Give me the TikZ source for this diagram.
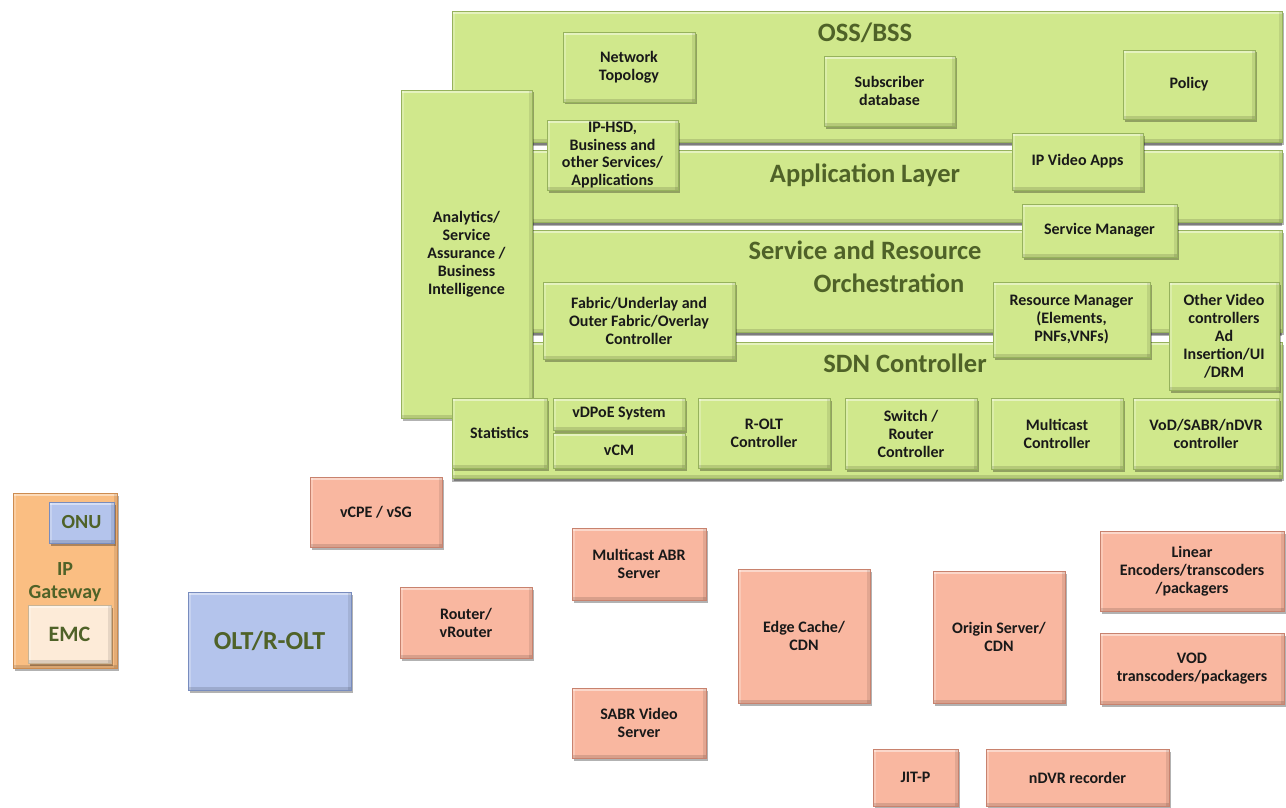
\documentclass[tikz,border=0pt]{standalone}
\usepackage{fontspec}
\setmainfont{Carlito}
\usetikzlibrary{shadows}

\definecolor{leaf}{RGB}{208,232,140}
\definecolor{leafedge}{RGB}{150,178,92}
\definecolor{salmon}{RGB}{249,183,160}
\definecolor{salmonedge}{RGB}{200,130,110}
\definecolor{periwinkle}{RGB}{180,196,236}
\definecolor{periedge}{RGB}{120,140,190}
\definecolor{apricot}{RGB}{250,190,130}
\definecolor{apricotedge}{RGB}{205,140,80}
\definecolor{cream}{RGB}{253,235,216}
\definecolor{creamedge}{RGB}{200,180,150}
\definecolor{olivetext}{RGB}{79,98,40}
\definecolor{labeltext}{RGB}{25,25,25}

\tikzset{
  bevel/.style={path picture={
      \fill[white,opacity=0.45] (path picture bounding box.north west)
        rectangle ([yshift=-3pt]path picture bounding box.north east);
      \fill[white,opacity=0.25] (path picture bounding box.north west)
        rectangle ([xshift=3pt]path picture bounding box.south west);
      \fill[black,opacity=0.13] (path picture bounding box.south west)
        rectangle ([yshift=3pt]path picture bounding box.south east);
      \fill[black,opacity=0.09] (path picture bounding box.north east)
        rectangle ([xshift=-3pt]path picture bounding box.south east);
  }},
  base box/.style={rectangle, inner sep=1pt, align=center, bevel,
    line width=0.6pt, text=labeltext,
    font=\bfseries\fontsize{16}{18}\selectfont,
    drop shadow={shadow xshift=1.5pt, shadow yshift=-2.5pt,
                 fill=black, opacity=0.3}},
  greenbox/.style={base box, fill=leaf, draw=leafedge},
  layerbox/.style={base box, fill=leaf, draw=leafedge,
    drop shadow={shadow xshift=0pt, shadow yshift=-3.5pt,
                 fill=black, opacity=0.3}},
  pinkbox/.style={base box, fill=salmon, draw=salmonedge},
  bluebox/.style={base box, fill=periwinkle, draw=periedge, text=olivetext},
  orangebox/.style={base box, fill=apricot, draw=apricotedge},
  creambox/.style={base box, fill=cream, draw=creamedge, text=olivetext},
  layertitle/.style={anchor=base, inner sep=0pt, text=olivetext,
    font=\bfseries\fontsize{26.5}{30}\selectfont},
  gwlabel/.style={anchor=base, inner sep=0pt, text=olivetext,
    font=\bfseries\fontsize{20}{23}\selectfont},
}

% \bx{style}{name}{x1}{y1}{x2}{y2}{text}: box spanning the given corners
\newcommand\bx[7]{%
  \node[#1, minimum width={(#5-#3)*1pt}, minimum height={(#6-#4)*1pt}]
    (#2) at ({(#3+#5)/2},{(#4+#6)/2}) {#7};}

\begin{document}
\begin{tikzpicture}[x=1pt, y=-1pt]
\useasboundingbox (0,0) rectangle (1286,808);
\clip (0,0) rectangle (1286,808);

% ---- stacked control layers ----
\bx{layerbox}{oss}{452}{11}{1282}{142}{}
\bx{layerbox}{app}{452}{150}{1282}{222}{}
\bx{layerbox}{orch}{452}{230}{1282}{332}{}
\bx{layerbox}{sdn}{452}{342}{1282}{478}{}

\node[layertitle] (ossT)  at (865,42)  {OSS/BSS};
\node[layertitle] (appT)  at (865,182) {Application Layer};
\node[layertitle] (orchT) at (865,259) {Service and Resource};
\node[layertitle] (orchT2) at (889,292) {Orchestration};
\node[layertitle] (sdnT)  at (905,372) {SDN Controller};

% ---- analytics column ----
\bx{greenbox}{analytics}{401}{90}{532}{418}{Analytics/\\Service\\Assurance /\\Business\\Intelligence}

% ---- OSS / application / orchestration functions ----
\bx{greenbox}{topo}{563}{32}{695}{102}{Network\\Topology}
\bx{greenbox}{subs}{824}{56}{955}{126}{Subscriber\\database}
\bx{greenbox}{policy}{1123}{50}{1255}{119}{Policy}
\bx{greenbox,font=\bfseries\fontsize{16}{17.5}\selectfont}{iphsd}{547}{120}{678}{190}{IP-HSD,\\Business and\\other Services/\\Applications}
\bx{greenbox}{ipvideo}{1012}{133}{1143}{190}{IP Video Apps}
\bx{greenbox}{svcmgr}{1022}{204}{1177}{257}{Service Manager}
\bx{greenbox}{fabric}{543}{282}{735}{359}{Fabric/Underlay and\\Outer Fabric/Overlay\\Controller}
\bx{greenbox}{resmgr}{993}{282}{1150}{357}{Resource Manager\\(Elements,\\PNFs,VNFs)}
\bx{greenbox}{othervid}{1169}{282}{1279}{390}{Other Video\\controllers\\Ad\\Insertion/UI\\/DRM}

% ---- SDN controller modules ----
\bx{greenbox}{stats}{452}{398}{547}{468}{Statistics}
\bx{greenbox}{vdpoe}{553}{398}{685}{430}{vDPoE System}
\bx{greenbox}{vcm}{553}{433}{685}{468}{vCM}
\bx{greenbox}{roltc}{698}{398}{830}{468}{R-OLT\\Controller}
\bx{greenbox}{switchc}{845}{398}{977}{469}{Switch /\\Router\\Controller}
\bx{greenbox}{mcastc}{991}{398}{1123}{469}{Multicast\\Controller}
\bx{greenbox}{vodc}{1133}{398}{1279}{469}{VoD/SABR/nDVR\\controller}

% ---- home gateway ----
\bx{orangebox}{ipgw}{13}{493}{117}{668}{}
\bx{bluebox,font=\bfseries\fontsize{20}{22}\selectfont}{onu}{49}{502}{114}{543}{ONU}
\bx{creambox,font=\bfseries\fontsize{22}{24}\selectfont}{emc}{28}{605}{111}{663}{EMC}
\node[gwlabel] (ipgwT1) at (65,575) {IP};
\node[gwlabel] (ipgwT2) at (65,598) {Gateway};

% ---- access and network elements ----
\bx{bluebox,font=\bfseries\fontsize{26}{28}\selectfont}{olt}{188}{592}{351}{690}{OLT/R-OLT}
\bx{pinkbox}{vcpe}{310}{477}{442}{547}{vCPE / vSG}
\bx{pinkbox}{router}{400}{587}{532}{658}{Router/\\vRouter}

% ---- video delivery elements ----
\bx{pinkbox}{mabr}{572}{528}{706}{600}{Multicast ABR\\Server}
\bx{pinkbox}{sabr}{572}{688}{706}{758}{SABR Video\\Server}
\bx{pinkbox}{edge}{738}{569}{870}{703}{Edge Cache/\\CDN}
\bx{pinkbox}{origin}{933}{571}{1065}{703}{Origin Server/\\CDN}
\bx{pinkbox}{linear}{1100}{531}{1284}{611}{Linear\\Encoders/transcoders\\/packagers}
\bx{pinkbox}{vod}{1100}{633}{1284}{704}{VOD\\transcoders/packagers}
\bx{pinkbox}{jitp}{873}{749}{958}{806}{JIT-P}
\bx{pinkbox}{ndvr}{986}{749}{1169}{806}{nDVR recorder}
\end{tikzpicture}
\end{document}
